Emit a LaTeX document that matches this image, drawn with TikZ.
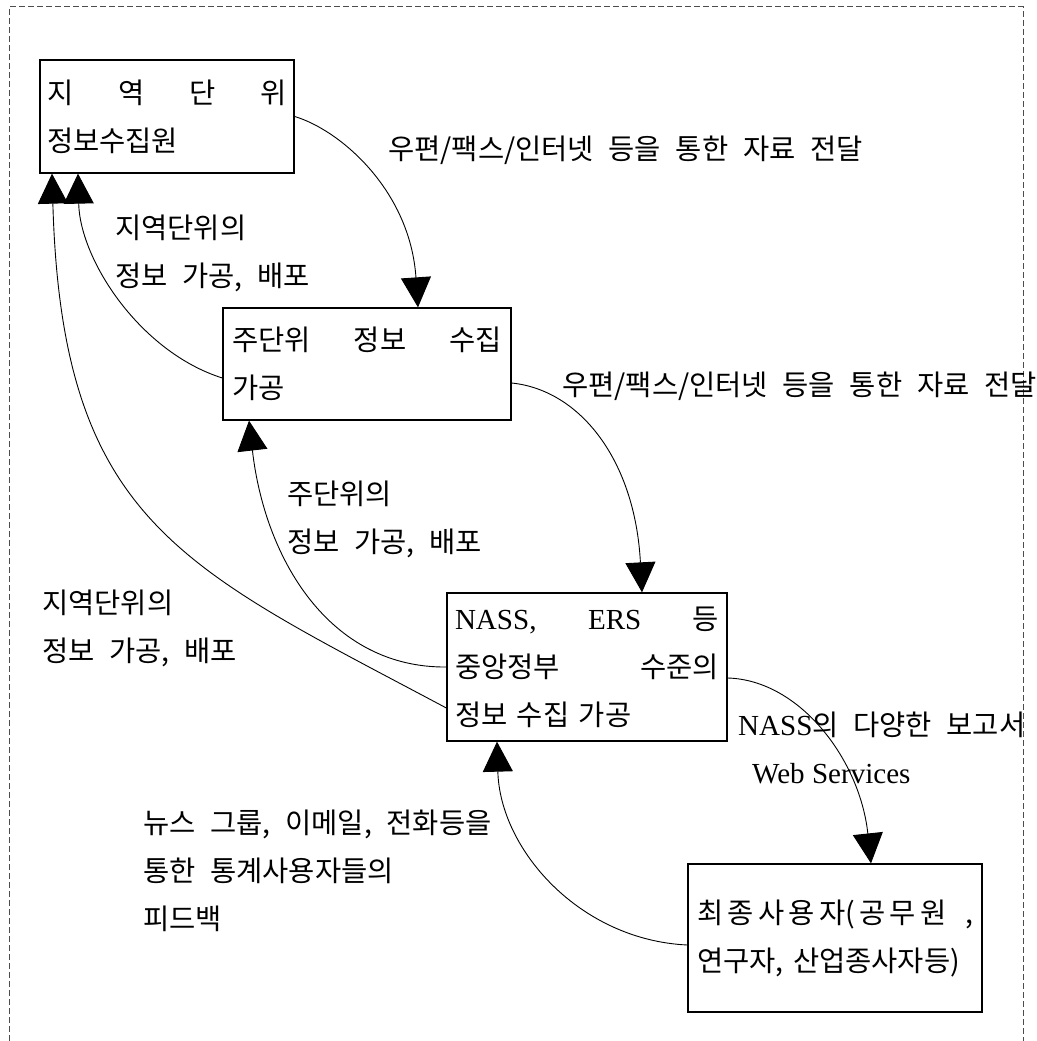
\documentclass[tikz,border=0pt]{standalone}
\usepackage{fontspec}
\setmainfont{Noto Sans CJK KR}[WordSpace=2.3]
\newfontfamily\lat{Liberation Serif}[Scale=1.02]
\usetikzlibrary{arrows.meta}
\begin{document}
\begin{tikzpicture}[x=1pt,y=-1pt,
  procbox/.style={draw=black, line width=1.3pt, rectangle, inner ysep=0pt, align=left,
    font=\fontsize{28.5}{48}\selectfont},
  lbl/.style={inner sep=0pt, anchor=west, align=left, font=\fontsize{28.5}{48}\selectfont},
  conn/.style={line width=0.9pt, -{Triangle[length=30pt,width=30pt]}},
  frame/.style={draw=black!70, line width=1pt, dash pattern=on 6pt off 3pt}]

\useasboundingbox (0,0) rectangle (1036,1041);
\draw[frame] (9,1041) -- (9,7) -- (1023,7) -- (1023,1041);

% boxes
\node[procbox, minimum width=254pt, minimum height=113pt, inner xsep=7pt, text width=240pt] (b1) at (167,116.5)
  {\makebox[240pt][l]{지\hfill 역\hfill 단\hfill 위}\\정보수집원};
\node[procbox, minimum width=288pt, minimum height=112pt, inner xsep=9pt, text width=270pt] (b2) at (367,364)
  {\makebox[270pt][l]{주단위\hfill 정보\hfill 수집}\\가공};
\node[procbox, minimum width=280pt, minimum height=148pt, inner xsep=8pt, text width=264pt] (b3) at (587,667)
  {\makebox[264pt][l]{{\lat NASS,}\hfill{\lat ERS}\hfill 등}\\\makebox[264pt][l]{중앙정부\hfill 수준의}\\정보 수집 가공};
\node[procbox, minimum width=294pt, minimum height=148pt, inner xsep=9pt, text width=276pt] (b4) at (835,938)
  {\makebox[276pt][l]{최\hfill 종\hfill 사\hfill 용\hfill 자(\hfill 공\hfill 무\hfill 원\hspace*{14pt}\hfill ,}\\연구자, 산업종사자등)};

% labels
\node[lbl] (l1) at (388,150) {우편/팩스/인터넷 등을 통한 자료 전달};
\node[lbl] (l2) at (115,253.5) {지역단위의\\정보 가공, 배포};
\node[lbl] (l3) at (562,386) {우편/팩스/인터넷 등을 통한 자료 전달};
\node[lbl] (l4) at (287,519.5) {주단위의\\정보 가공, 배포};
\node[lbl] (l5) at (42,628.5) {지역단위의\\정보 가공, 배포};
\node[lbl] (l6) at (738,748) {{\lat NASS}의 다양한 보고서\\\hspace*{14pt}{\lat Web Services}};
\node[lbl] (l7) at (143,871) {뉴스 그룹, 이메일, 전화등을\\통한 통계사용자들의\\피드백};

% connectors
\draw[conn] (b1.east) .. controls (340,130) and (410,190) .. ([xshift=51pt]b2.north);
\draw[conn] ([yshift=-14pt]b2.west) .. controls (140,352) and (80,260) .. ([xshift=-89pt]b1.south);
\draw[conn] ([yshift=-41pt]b3.west) .. controls (182,567) and (62,523) .. ([xshift=-115pt]b1.south);
\draw[conn] (b3.west) .. controls (330,668) and (265,560) .. ([xshift=-118pt]b2.south);
\draw[conn] ([yshift=-19pt]b2.east) .. controls (580,390) and (635,460) .. ([xshift=55pt]b3.north);
\draw[conn] ([yshift=-11pt]b3.east) .. controls (800,680) and (860,760) .. ([xshift=36pt]b4.north);
\draw[conn] ([yshift=-7pt]b4.west) .. controls (580,940) and (500,850) .. ([xshift=-90pt]b3.south);
\end{tikzpicture}
\end{document}
